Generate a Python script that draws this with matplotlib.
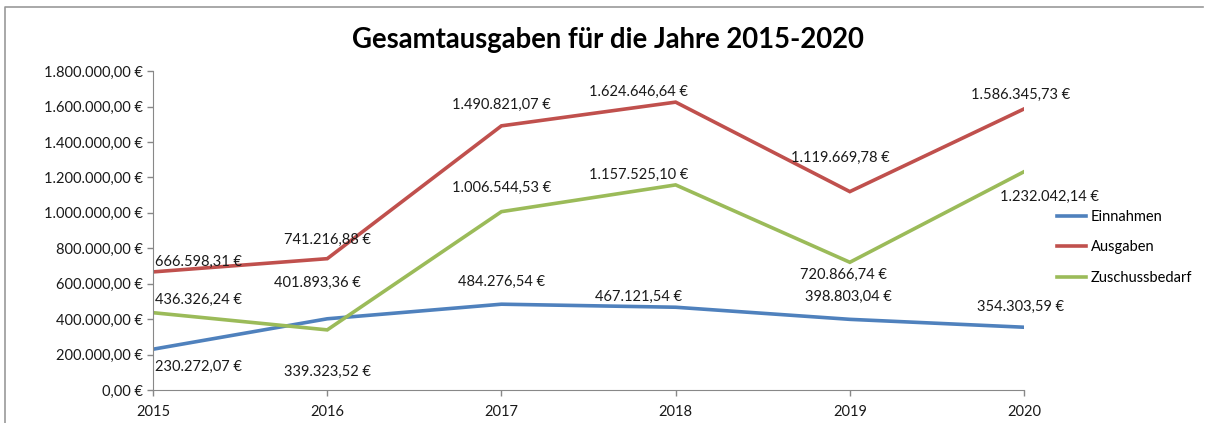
import matplotlib
matplotlib.use("Agg")
import matplotlib.pyplot as plt
from matplotlib.lines import Line2D
from matplotlib.ticker import FuncFormatter

plt.rcParams["font.family"] = ["Lato", "DejaVu Sans"]

years = ["2015", "2016", "2017", "2018", "2019", "2020"]
einnahmen = [230272.07, 401893.36, 484276.54, 467121.54, 398803.04, 354303.59]
ausgaben = [666598.31, 741216.88, 1490821.07, 1624646.64, 1119669.78, 1586345.73]
zuschuss = [436326.24, 339323.52, 1006544.53, 1157525.10, 720866.74, 1232042.14]


def euro(v, pos=None):
    s = f"{v:,.2f}"
    s = s.replace(",", "X").replace(".", ",").replace("X", ".")
    return s + " €"


# label offsets in pixels (dx, dy) relative to each point, as in the excel chart
off_ein = [(2, -18), (-10, 36), (0, 22), (-37, 10), (-1, 22), (-3, 20)]
off_aus = [(2, 10), (0, 19), (0, 21), (-37, 10), (-9, 34), (-3, 14)]
off_zus = [(2, 13), (0, -42), (0, 24), (-37, 10), (-6, -13), (25, -25)]

fig = plt.figure(figsize=(12.08, 4.23), dpi=100)
ax = fig.add_axes([0.1267, 0.078, 0.7210, 0.754])

series = [
    ("Einnahmen", einnahmen, "#4F81BD", off_ein),
    ("Ausgaben", ausgaben, "#C0504D", off_aus),
    ("Zuschussbedarf", zuschuss, "#9BBB59", off_zus),
]
x = list(range(len(years)))
handles = []
for name, vals, col, offs in series:
    ax.plot(x, vals, color=col, lw=2.6, solid_joinstyle="miter")
    handles.append(Line2D([], [], color=col, lw=2.6, label=name))
    for i, v in enumerate(vals):
        dx, dy = offs[i]
        ha = "left" if i == 0 else "center"
        ax.annotate(euro(v), (x[i], v), xytext=(dx, dy), textcoords="offset pixels",
                    ha=ha, va="center", fontsize=10.5, color="#1a1a1a")

ax.set_xlim(0, 5)
ax.set_ylim(0, 1800000)
ax.set_yticks(range(0, 1800001, 200000))
ax.yaxis.set_major_formatter(FuncFormatter(euro))
ax.set_xticks(x)
ax.set_xticklabels(years)
ax.tick_params(axis="both", labelsize=10.5, colors="#1a1a1a", length=4, width=1)
ax.tick_params(axis="both", color="#888888")
ax.tick_params(axis="x", pad=7)
for s in ["top", "right"]:
    ax.spines[s].set_visible(False)
for s in ["left", "bottom"]:
    ax.spines[s].set_color("#888888")

fig.legend(handles=handles, loc="upper left", bbox_to_anchor=(1057 / 1208, 1 - 210 / 423),
           frameon=False, fontsize=10.5, handlelength=2.0, handletextpad=0.3,
           labelspacing=1.12, borderpad=0, borderaxespad=0)

fig.text(0.503, 1 - 40 / 423, "Gesamtausgaben für die Jahre 2015-2020", ha="center",
         va="center", fontsize=19.8, fontweight="bold")

# chart frame (top and left edge visible in the screenshot)
fig.add_artist(Line2D([5 / 1208, 5 / 1208, 1203 / 1208], [0, 1 - 7 / 423, 1 - 7 / 423],
                      color="#999999", lw=1.2))

fig.savefig("out.png", dpi=100)
